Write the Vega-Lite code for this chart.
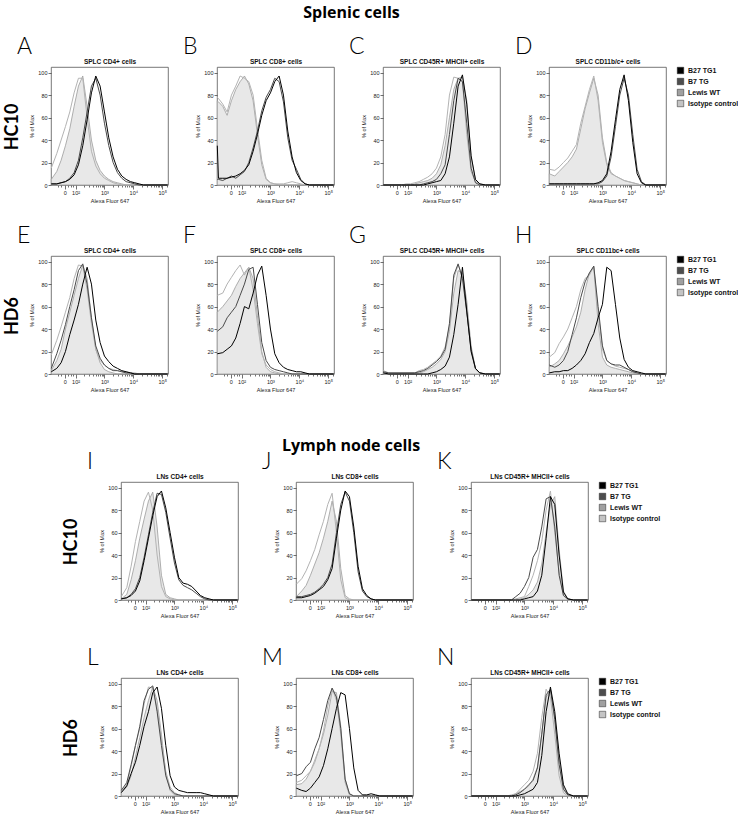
{
"$schema":"https://vega.github.io/schema/vega-lite/v6.json",
"padding":{"left":3,"top":4,"right":2,"bottom":2},
"config":{
"view":{"stroke":"#555","strokeWidth":0.8},
"font":"Liberation Sans",
"title":{"font":"Lato","fontSize":23,"fontWeight":300,"anchor":"start","frame":"group","dx":-34,"offset":-1,"color":"#000"},
"axis":{"labelFont":"Liberation Sans","labelFontSize":5.5,"titleFont":"Liberation Sans","titleFontSize":5.5,"titleFontWeight":"normal","tickSize":3,"tickColor":"#333","tickWidth":0.7,"domain":false,"grid":false,"labelColor":"#222","titleColor":"#222","labelPadding":1,"titlePadding":3,"labelOverlap":false,"labelFlush":false},
"axisTop":{"labels":false,"ticks":false,"domain":false,"titleFontWeight":"bold","titleFontSize":6.5,"titlePadding":3,"titleColor":"#111"},
"line":{"strokeWidth":1},
"legend":{"title":null,"orient":"right","offset":11,"symbolType":"square","symbolSize":42,"labelFont":"Liberation Sans","labelFontSize":7,"labelFontWeight":"bold","labelColor":"#111","rowPadding":2,"symbolStrokeColor":"#222","symbolStrokeWidth":0.5,"labelOffset":4}
},
"data":{"values":[
{"p":"A","x":1.16,"a":1,"b":1,"c":15,"d":5},{"p":"A","x":1.35,"a":1,"b":1,"c":28,"d":12},{"p":"A","x":1.5,"a":2,"b":2,"c":40,"d":22},{"p":"A","x":1.65,"a":3,"b":3,"c":52,"d":35},{"p":"A","x":1.8,"a":5,"b":6,"c":65,"d":50},{"p":"A","x":1.95,"a":9,"b":11,"c":82,"d":70},{"p":"A","x":2.1,"a":18,"b":22,"c":95,"d":88},{"p":"A","x":2.25,"a":35,"b":42,"c":95,"d":97},{"p":"A","x":2.4,"a":58,"b":65,"c":60,"d":70},{"p":"A","x":2.55,"a":82,"b":88,"c":30,"d":40},{"p":"A","x":2.7,"a":97,"b":95,"c":17,"d":22},{"p":"A","x":2.85,"a":88,"b":80,"c":10,"d":13},{"p":"A","x":3.0,"a":65,"b":55,"c":6,"d":8},{"p":"A","x":3.15,"a":42,"b":35,"c":4,"d":5},{"p":"A","x":3.3,"a":25,"b":20,"c":2,"d":3},{"p":"A","x":3.45,"a":14,"b":11,"c":1,"d":2},{"p":"A","x":3.6,"a":8,"b":6,"c":0,"d":1},{"p":"A","x":3.75,"a":5,"b":3,"c":0,"d":0},{"p":"A","x":3.9,"a":3,"b":2,"c":0,"d":0},{"p":"A","x":4.05,"a":2,"b":1,"c":0,"d":0},{"p":"A","x":4.2,"a":1,"b":0,"c":0,"d":0},{"p":"A","x":4.35,"a":0,"b":0,"c":0,"d":0},{"p":"A","x":5.19,"a":0,"b":0,"c":0,"d":0},
{"p":"B","x":1.16,"a":35,"b":5,"c":78,"d":75},{"p":"B","x":1.2,"a":6,"b":5,"c":77,"d":74},{"p":"B","x":1.35,"a":6,"b":4,"c":72,"d":70},{"p":"B","x":1.5,"a":6,"b":6,"c":65,"d":62},{"p":"B","x":1.65,"a":7,"b":8,"c":80,"d":75},{"p":"B","x":1.8,"a":8,"b":6,"c":88,"d":85},{"p":"B","x":1.95,"a":10,"b":9,"c":97,"d":92},{"p":"B","x":2.1,"a":13,"b":12,"c":95,"d":97},{"p":"B","x":2.25,"a":18,"b":20,"c":92,"d":90},{"p":"B","x":2.4,"a":30,"b":33,"c":80,"d":75},{"p":"B","x":2.55,"a":45,"b":48,"c":50,"d":45},{"p":"B","x":2.7,"a":62,"b":66,"c":22,"d":18},{"p":"B","x":2.85,"a":75,"b":78,"c":6,"d":5},{"p":"B","x":3.0,"a":82,"b":85,"c":2,"d":2},{"p":"B","x":3.15,"a":92,"b":95,"c":1,"d":1},{"p":"B","x":3.3,"a":97,"b":92,"c":1,"d":0},{"p":"B","x":3.45,"a":80,"b":74,"c":1,"d":0},{"p":"B","x":3.6,"a":48,"b":42,"c":2,"d":0},{"p":"B","x":3.75,"a":25,"b":22,"c":3,"d":0},{"p":"B","x":3.9,"a":11,"b":14,"c":2,"d":0},{"p":"B","x":4.05,"a":4,"b":5,"c":1,"d":0},{"p":"B","x":4.2,"a":1,"b":1,"c":0,"d":0},{"p":"B","x":4.35,"a":0,"b":0,"c":0,"d":0},{"p":"B","x":5.19,"a":0,"b":0,"c":0,"d":0},
{"p":"C","x":1.16,"a":0,"b":0,"c":0,"d":0},{"p":"C","x":1.8,"a":0,"b":0,"c":0,"d":0},{"p":"C","x":1.95,"a":0,"b":0,"c":1,"d":0},{"p":"C","x":2.1,"a":0,"b":0,"c":1,"d":0},{"p":"C","x":2.25,"a":0,"b":0,"c":2,"d":1},{"p":"C","x":2.4,"a":0,"b":0,"c":3,"d":2},{"p":"C","x":2.55,"a":0,"b":1,"c":5,"d":3},{"p":"C","x":2.7,"a":1,"b":2,"c":7,"d":4},{"p":"C","x":2.85,"a":2,"b":3,"c":10,"d":6},{"p":"C","x":3.0,"a":3,"b":5,"c":15,"d":10},{"p":"C","x":3.15,"a":4,"b":10,"c":25,"d":18},{"p":"C","x":3.3,"a":10,"b":18,"c":45,"d":35},{"p":"C","x":3.45,"a":25,"b":45,"c":80,"d":60},{"p":"C","x":3.6,"a":55,"b":75,"c":96,"d":85},{"p":"C","x":3.75,"a":88,"b":95,"c":95,"d":95},{"p":"C","x":3.9,"a":98,"b":92,"c":92,"d":96},{"p":"C","x":4.05,"a":72,"b":55,"c":45,"d":75},{"p":"C","x":4.2,"a":26,"b":15,"c":12,"d":25},{"p":"C","x":4.35,"a":5,"b":2,"c":3,"d":5},{"p":"C","x":4.5,"a":1,"b":0,"c":1,"d":1},{"p":"C","x":4.7,"a":0,"b":0,"c":0,"d":0},{"p":"C","x":5.19,"a":0,"b":0,"c":0,"d":0},
{"p":"D","x":1.16,"a":1,"b":1,"c":14,"d":10},{"p":"D","x":1.35,"a":1,"b":1,"c":13,"d":8},{"p":"D","x":1.5,"a":1,"b":1,"c":16,"d":12},{"p":"D","x":1.65,"a":1,"b":1,"c":20,"d":16},{"p":"D","x":1.8,"a":1,"b":1,"c":24,"d":20},{"p":"D","x":1.95,"a":1,"b":1,"c":30,"d":25},{"p":"D","x":2.1,"a":1,"b":1,"c":36,"d":32},{"p":"D","x":2.25,"a":1,"b":1,"c":55,"d":50},{"p":"D","x":2.4,"a":1,"b":1,"c":70,"d":68},{"p":"D","x":2.55,"a":1,"b":1,"c":85,"d":82},{"p":"D","x":2.7,"a":1,"b":1,"c":97,"d":95},{"p":"D","x":2.85,"a":2,"b":1,"c":75,"d":80},{"p":"D","x":3.0,"a":4,"b":3,"c":38,"d":42},{"p":"D","x":3.15,"a":10,"b":8,"c":18,"d":20},{"p":"D","x":3.3,"a":30,"b":25,"c":10,"d":11},{"p":"D","x":3.45,"a":58,"b":52,"c":8,"d":8},{"p":"D","x":3.6,"a":85,"b":80,"c":6,"d":6},{"p":"D","x":3.75,"a":98,"b":95,"c":4,"d":4},{"p":"D","x":3.9,"a":75,"b":80,"c":3,"d":3},{"p":"D","x":4.05,"a":38,"b":45,"c":2,"d":2},{"p":"D","x":4.2,"a":10,"b":14,"c":1,"d":1},{"p":"D","x":4.35,"a":2,"b":3,"c":0,"d":0},{"p":"D","x":4.5,"a":0,"b":0,"c":0,"d":0},{"p":"D","x":5.19,"a":0,"b":0,"c":0,"d":0},
{"p":"E","x":1.16,"a":2,"b":5,"c":17,"d":3},{"p":"E","x":1.35,"a":5,"b":18,"c":30,"d":12},{"p":"E","x":1.5,"a":10,"b":30,"c":42,"d":22},{"p":"E","x":1.65,"a":20,"b":44,"c":55,"d":40},{"p":"E","x":1.8,"a":35,"b":60,"c":68,"d":55},{"p":"E","x":1.95,"a":48,"b":75,"c":85,"d":70},{"p":"E","x":2.1,"a":62,"b":92,"c":97,"d":85},{"p":"E","x":2.25,"a":80,"b":98,"c":96,"d":97},{"p":"E","x":2.4,"a":95,"b":80,"c":75,"d":85},{"p":"E","x":2.55,"a":80,"b":50,"c":45,"d":50},{"p":"E","x":2.7,"a":48,"b":25,"c":22,"d":22},{"p":"E","x":2.85,"a":28,"b":14,"c":12,"d":10},{"p":"E","x":3.0,"a":16,"b":8,"c":8,"d":4},{"p":"E","x":3.15,"a":11,"b":5,"c":5,"d":2},{"p":"E","x":3.3,"a":7,"b":3,"c":4,"d":1},{"p":"E","x":3.45,"a":5,"b":3,"c":3,"d":0},{"p":"E","x":3.6,"a":3,"b":2,"c":2,"d":0},{"p":"E","x":3.75,"a":2,"b":1,"c":2,"d":0},{"p":"E","x":3.9,"a":1,"b":1,"c":1,"d":0},{"p":"E","x":4.05,"a":0,"b":0,"c":1,"d":0},{"p":"E","x":4.2,"a":0,"b":0,"c":0,"d":0},{"p":"E","x":5.19,"a":0,"b":0,"c":0,"d":0},
{"p":"F","x":1.16,"a":18,"b":38,"c":70,"d":55},{"p":"F","x":1.35,"a":19,"b":42,"c":72,"d":60},{"p":"F","x":1.5,"a":22,"b":50,"c":80,"d":65},{"p":"F","x":1.65,"a":25,"b":55,"c":86,"d":70},{"p":"F","x":1.8,"a":32,"b":60,"c":92,"d":78},{"p":"F","x":1.95,"a":45,"b":70,"c":97,"d":85},{"p":"F","x":2.1,"a":60,"b":80,"c":88,"d":90},{"p":"F","x":2.25,"a":58,"b":93,"c":95,"d":95},{"p":"F","x":2.4,"a":72,"b":95,"c":75,"d":85},{"p":"F","x":2.55,"a":88,"b":62,"c":45,"d":52},{"p":"F","x":2.7,"a":96,"b":28,"c":18,"d":20},{"p":"F","x":2.85,"a":70,"b":12,"c":8,"d":6},{"p":"F","x":3.0,"a":40,"b":6,"c":4,"d":2},{"p":"F","x":3.15,"a":18,"b":4,"c":2,"d":1},{"p":"F","x":3.3,"a":10,"b":3,"c":1,"d":0},{"p":"F","x":3.45,"a":6,"b":2,"c":0,"d":0},{"p":"F","x":3.6,"a":4,"b":1,"c":0,"d":0},{"p":"F","x":3.75,"a":3,"b":0,"c":0,"d":0},{"p":"F","x":3.9,"a":2,"b":0,"c":0,"d":0},{"p":"F","x":4.05,"a":2,"b":0,"c":0,"d":0},{"p":"F","x":4.2,"a":1,"b":0,"c":0,"d":0},{"p":"F","x":4.35,"a":0,"b":0,"c":0,"d":0},{"p":"F","x":5.19,"a":0,"b":0,"c":0,"d":0},
{"p":"G","x":1.16,"a":1,"b":2,"c":3,"d":1},{"p":"G","x":1.35,"a":0,"b":1,"c":1,"d":0},{"p":"G","x":2.25,"a":0,"b":1,"c":1,"d":1},{"p":"G","x":2.4,"a":0,"b":2,"c":3,"d":1},{"p":"G","x":2.55,"a":0,"b":3,"c":4,"d":2},{"p":"G","x":2.7,"a":0,"b":5,"c":6,"d":4},{"p":"G","x":2.85,"a":1,"b":8,"c":9,"d":6},{"p":"G","x":3.0,"a":2,"b":11,"c":12,"d":9},{"p":"G","x":3.15,"a":4,"b":15,"c":16,"d":13},{"p":"G","x":3.3,"a":7,"b":22,"c":24,"d":20},{"p":"G","x":3.45,"a":15,"b":45,"c":42,"d":38},{"p":"G","x":3.6,"a":35,"b":88,"c":85,"d":72},{"p":"G","x":3.75,"a":62,"b":98,"c":97,"d":92},{"p":"G","x":3.9,"a":95,"b":85,"c":88,"d":90},{"p":"G","x":4.05,"a":56,"b":55,"c":56,"d":65},{"p":"G","x":4.2,"a":20,"b":22,"c":20,"d":25},{"p":"G","x":4.35,"a":5,"b":5,"c":4,"d":5},{"p":"G","x":4.5,"a":1,"b":1,"c":1,"d":1},{"p":"G","x":4.7,"a":0,"b":0,"c":0,"d":0},{"p":"G","x":5.19,"a":0,"b":0,"c":0,"d":0},
{"p":"H","x":1.16,"a":1,"b":8,"c":15,"d":6},{"p":"H","x":1.35,"a":2,"b":6,"c":19,"d":9},{"p":"H","x":1.5,"a":2,"b":8,"c":27,"d":12},{"p":"H","x":1.65,"a":3,"b":12,"c":33,"d":18},{"p":"H","x":1.8,"a":3,"b":20,"c":40,"d":25},{"p":"H","x":1.95,"a":5,"b":35,"c":50,"d":33},{"p":"H","x":2.1,"a":8,"b":50,"c":60,"d":42},{"p":"H","x":2.25,"a":12,"b":68,"c":75,"d":55},{"p":"H","x":2.4,"a":18,"b":82,"c":85,"d":75},{"p":"H","x":2.55,"a":28,"b":90,"c":88,"d":90},{"p":"H","x":2.7,"a":36,"b":96,"c":96,"d":95},{"p":"H","x":2.85,"a":50,"b":60,"c":55,"d":45},{"p":"H","x":3.0,"a":62,"b":25,"c":22,"d":15},{"p":"H","x":3.15,"a":95,"b":12,"c":12,"d":8},{"p":"H","x":3.3,"a":92,"b":9,"c":9,"d":6},{"p":"H","x":3.45,"a":62,"b":8,"c":7,"d":5},{"p":"H","x":3.6,"a":32,"b":8,"c":6,"d":4},{"p":"H","x":3.75,"a":13,"b":6,"c":5,"d":3},{"p":"H","x":3.9,"a":6,"b":4,"c":4,"d":2},{"p":"H","x":4.05,"a":3,"b":2,"c":2,"d":1},{"p":"H","x":4.2,"a":2,"b":1,"c":1,"d":0},{"p":"H","x":4.35,"a":1,"b":0,"c":0,"d":0},{"p":"H","x":4.5,"a":0,"b":0,"c":0,"d":0},{"p":"H","x":5.19,"a":0,"b":0,"c":0,"d":0},
{"p":"I","x":1.16,"a":1,"b":1,"c":3,"d":1},{"p":"I","x":1.35,"a":2,"b":2,"c":11,"d":5},{"p":"I","x":1.5,"a":4,"b":5,"c":30,"d":18},{"p":"I","x":1.65,"a":8,"b":10,"c":52,"d":35},{"p":"I","x":1.8,"a":17,"b":20,"c":70,"d":55},{"p":"I","x":1.95,"a":35,"b":38,"c":88,"d":72},{"p":"I","x":2.1,"a":55,"b":58,"c":96,"d":88},{"p":"I","x":2.25,"a":75,"b":78,"c":80,"d":96},{"p":"I","x":2.4,"a":92,"b":95,"c":40,"d":65},{"p":"I","x":2.55,"a":97,"b":94,"c":12,"d":22},{"p":"I","x":2.7,"a":82,"b":78,"c":3,"d":5},{"p":"I","x":2.85,"a":60,"b":55,"c":1,"d":2},{"p":"I","x":3.0,"a":38,"b":33,"c":0,"d":1},{"p":"I","x":3.15,"a":20,"b":18,"c":0,"d":0},{"p":"I","x":3.3,"a":15,"b":13,"c":0,"d":0},{"p":"I","x":3.45,"a":14,"b":11,"c":0,"d":0},{"p":"I","x":3.6,"a":12,"b":9,"c":0,"d":0},{"p":"I","x":3.75,"a":8,"b":6,"c":0,"d":0},{"p":"I","x":3.9,"a":4,"b":3,"c":0,"d":0},{"p":"I","x":4.05,"a":2,"b":1,"c":0,"d":0},{"p":"I","x":4.2,"a":1,"b":0,"c":0,"d":0},{"p":"I","x":4.35,"a":0,"b":0,"c":0,"d":0},{"p":"I","x":5.19,"a":0,"b":0,"c":0,"d":0},
{"p":"J","x":1.16,"a":2,"b":3,"c":14,"d":3},{"p":"J","x":1.35,"a":2,"b":3,"c":19,"d":8},{"p":"J","x":1.5,"a":3,"b":4,"c":26,"d":13},{"p":"J","x":1.65,"a":4,"b":5,"c":35,"d":22},{"p":"J","x":1.8,"a":6,"b":7,"c":45,"d":32},{"p":"J","x":1.95,"a":9,"b":10,"c":58,"d":42},{"p":"J","x":2.1,"a":12,"b":14,"c":70,"d":55},{"p":"J","x":2.25,"a":18,"b":20,"c":85,"d":70},{"p":"J","x":2.4,"a":28,"b":32,"c":95,"d":88},{"p":"J","x":2.55,"a":55,"b":60,"c":60,"d":70},{"p":"J","x":2.7,"a":80,"b":85,"c":18,"d":28},{"p":"J","x":2.85,"a":97,"b":96,"c":2,"d":4},{"p":"J","x":3.0,"a":92,"b":88,"c":0,"d":1},{"p":"J","x":3.15,"a":65,"b":60,"c":0,"d":0},{"p":"J","x":3.3,"a":30,"b":25,"c":0,"d":0},{"p":"J","x":3.45,"a":10,"b":8,"c":0,"d":0},{"p":"J","x":3.6,"a":4,"b":3,"c":0,"d":0},{"p":"J","x":3.75,"a":1,"b":1,"c":0,"d":0},{"p":"J","x":3.9,"a":0,"b":0,"c":0,"d":0},{"p":"J","x":5.19,"a":0,"b":0,"c":0,"d":0},
{"p":"K","x":1.16,"a":0,"b":0,"c":0,"d":0},{"p":"K","x":2.55,"a":0,"b":0,"c":0,"d":0},{"p":"K","x":2.7,"a":0,"b":3,"c":1,"d":0},{"p":"K","x":2.85,"a":0,"b":6,"c":2,"d":1},{"p":"K","x":3.0,"a":1,"b":12,"c":3,"d":2},{"p":"K","x":3.15,"a":2,"b":20,"c":12,"d":5},{"p":"K","x":3.3,"a":3,"b":38,"c":22,"d":9},{"p":"K","x":3.45,"a":8,"b":45,"c":35,"d":16},{"p":"K","x":3.6,"a":22,"b":65,"c":52,"d":32},{"p":"K","x":3.75,"a":55,"b":90,"c":80,"d":60},{"p":"K","x":3.9,"a":92,"b":92,"c":97,"d":85},{"p":"K","x":4.05,"a":85,"b":65,"c":60,"d":92},{"p":"K","x":4.2,"a":40,"b":22,"c":25,"d":45},{"p":"K","x":4.35,"a":7,"b":4,"c":4,"d":8},{"p":"K","x":4.5,"a":1,"b":1,"c":0,"d":1},{"p":"K","x":4.7,"a":0,"b":0,"c":0,"d":0},{"p":"K","x":5.19,"a":0,"b":0,"c":0,"d":0},
{"p":"L","x":1.16,"a":3,"b":5,"c":4,"d":3},{"p":"L","x":1.35,"a":9,"b":12,"c":10,"d":8},{"p":"L","x":1.5,"a":20,"b":28,"c":26,"d":18},{"p":"L","x":1.65,"a":30,"b":45,"c":45,"d":35},{"p":"L","x":1.8,"a":45,"b":62,"c":60,"d":52},{"p":"L","x":1.95,"a":62,"b":85,"c":82,"d":70},{"p":"L","x":2.1,"a":75,"b":95,"c":97,"d":85},{"p":"L","x":2.25,"a":92,"b":98,"c":96,"d":97},{"p":"L","x":2.4,"a":97,"b":75,"c":78,"d":85},{"p":"L","x":2.55,"a":78,"b":45,"c":50,"d":55},{"p":"L","x":2.7,"a":45,"b":18,"c":22,"d":20},{"p":"L","x":2.85,"a":18,"b":6,"c":8,"d":5},{"p":"L","x":3.0,"a":8,"b":2,"c":3,"d":1},{"p":"L","x":3.15,"a":5,"b":1,"c":1,"d":0},{"p":"L","x":3.3,"a":4,"b":0,"c":0,"d":0},{"p":"L","x":3.45,"a":3,"b":0,"c":0,"d":0},{"p":"L","x":3.75,"a":3,"b":0,"c":0,"d":0},{"p":"L","x":3.9,"a":3,"b":0,"c":0,"d":0},{"p":"L","x":4.05,"a":2,"b":0,"c":0,"d":0},{"p":"L","x":4.2,"a":1,"b":0,"c":0,"d":0},{"p":"L","x":4.35,"a":0,"b":0,"c":0,"d":0},{"p":"L","x":5.19,"a":0,"b":0,"c":0,"d":0},
{"p":"M","x":1.16,"a":7,"b":18,"c":12,"d":10},{"p":"M","x":1.35,"a":5,"b":20,"c":14,"d":11},{"p":"M","x":1.5,"a":4,"b":26,"c":18,"d":15},{"p":"M","x":1.65,"a":7,"b":30,"c":22,"d":22},{"p":"M","x":1.8,"a":12,"b":42,"c":32,"d":30},{"p":"M","x":1.95,"a":17,"b":52,"c":42,"d":42},{"p":"M","x":2.1,"a":27,"b":68,"c":58,"d":55},{"p":"M","x":2.25,"a":42,"b":85,"c":80,"d":72},{"p":"M","x":2.4,"a":60,"b":96,"c":96,"d":93},{"p":"M","x":2.55,"a":78,"b":88,"c":85,"d":92},{"p":"M","x":2.7,"a":92,"b":60,"c":55,"d":62},{"p":"M","x":2.85,"a":90,"b":15,"c":12,"d":15},{"p":"M","x":3.0,"a":60,"b":2,"c":1,"d":2},{"p":"M","x":3.15,"a":25,"b":0,"c":0,"d":0},{"p":"M","x":3.3,"a":5,"b":0,"c":0,"d":0},{"p":"M","x":3.45,"a":1,"b":0,"c":0,"d":0},{"p":"M","x":3.6,"a":1,"b":0,"c":0,"d":0},{"p":"M","x":3.75,"a":2,"b":0,"c":0,"d":0},{"p":"M","x":3.9,"a":1,"b":0,"c":0,"d":0},{"p":"M","x":4.05,"a":0,"b":0,"c":0,"d":0},{"p":"M","x":5.19,"a":0,"b":0,"c":0,"d":0},
{"p":"N","x":1.16,"a":0,"b":0,"c":0,"d":0},{"p":"N","x":2.4,"a":0,"b":0,"c":0,"d":0},{"p":"N","x":2.55,"a":0,"b":0,"c":1,"d":0},{"p":"N","x":2.7,"a":0,"b":1,"c":2,"d":2},{"p":"N","x":2.85,"a":1,"b":3,"c":6,"d":4},{"p":"N","x":3.0,"a":2,"b":6,"c":10,"d":6},{"p":"N","x":3.15,"a":4,"b":10,"c":14,"d":9},{"p":"N","x":3.3,"a":6,"b":14,"c":22,"d":15},{"p":"N","x":3.45,"a":12,"b":25,"c":38,"d":26},{"p":"N","x":3.6,"a":36,"b":55,"c":70,"d":56},{"p":"N","x":3.75,"a":75,"b":90,"c":95,"d":88},{"p":"N","x":3.9,"a":97,"b":95,"c":88,"d":94},{"p":"N","x":4.05,"a":75,"b":68,"c":55,"d":70},{"p":"N","x":4.2,"a":38,"b":28,"c":18,"d":33},{"p":"N","x":4.35,"a":10,"b":6,"c":3,"d":8},{"p":"N","x":4.5,"a":2,"b":1,"c":0,"d":1},{"p":"N","x":4.7,"a":0,"b":0,"c":0,"d":0},{"p":"N","x":5.19,"a":0,"b":0,"c":0,"d":0}
]},
"resolve":{"scale":{"fill":"independent"}},
"spacing":43,
"vconcat":[
{"title":{"text":"Splenic cells","font":"Open Sans","fontSize":16,"fontWeight":"bold","anchor":"middle","frame":"bounds","dx":-20,"offset":15},
"resolve":{"scale":{"fill":"independent"}},
"spacing":19,
"vconcat":[
{"title":{"text":"HC10","orient":"left","font":"Lato","fontSize":18,"fontWeight":"bold","anchor":"middle","frame":"bounds","dx":-7,"offset":-5},
"resolve":{"scale":{"fill":"independent"}},"spacing":11,
"hconcat":[
{"width":117,"height":118,"title":{"text":"A"},"transform":[{"filter":"datum.p=='A'"},{"fold":["a","b","c","d"],"as":["s","y"]}],"encoding":{"x":{"field":"x","type":"quantitative","scale":{"domain":[1.15,5.2],"nice":false,"zero":false},"axis":null},"y":{"field":"y","type":"quantitative","scale":{"domain":[0,105],"nice":false},"axis":{"values":[0,20,40,60,80,100],"title":"% of Max"}}},"layer":[
{"transform":[{"filter":"datum.s=='d'"}],"mark":{"type":"area","fill":"#e8e8e8","stroke":"#9c9c9c","strokeWidth":0.8},"encoding":{"x":{"field":"x","type":"quantitative","scale":{"domain":[1.15,5.2],"nice":false,"zero":false},"axis":{"values":[1.4,1.5,1.63,1.75,1.85,1.92,2,2.301,2.477,2.602,2.699,2.778,2.845,2.903,2.954,3,3.301,3.477,3.602,3.699,3.778,3.845,3.903,3.954,4,4.301,4.477,4.602,4.699,4.778,4.845,4.903,4.954,5,5.18],"labelExpr":"datum.value==1.63?'0':datum.value==2?'10²':datum.value==3?'10³':datum.value==4?'10⁴':datum.value==5?'10⁵':''","tickSize":{"condition":{"test":"datum.value==1.63||datum.value==2||datum.value==3||datum.value==4||datum.value==5","value":4},"value":2},"title":"Alexa Fluor 647"}}}},
{"transform":[{"filter":"datum.s=='c'"}],"mark":{"type":"line","stroke":"#b3b3b3"}},
{"transform":[{"filter":"datum.s=='b'"}],"mark":{"type":"line","stroke":"#4a4a4a"}},
{"transform":[{"filter":"datum.s=='a'"}],"mark":{"type":"line","stroke":"#000"},"encoding":{"x":{"field":"x","type":"quantitative","scale":{"domain":[1.15,5.2],"nice":false,"zero":false},"axis":{"orient":"top","title":"SPLC CD4+ cells"}}}}
],"resolve":{"axis":{"x":"independent"}}},
{"width":117,"height":118,"title":{"text":"B"},"transform":[{"filter":"datum.p=='B'"},{"fold":["a","b","c","d"],"as":["s","y"]}],"encoding":{"x":{"field":"x","type":"quantitative","scale":{"domain":[1.15,5.2],"nice":false,"zero":false},"axis":null},"y":{"field":"y","type":"quantitative","scale":{"domain":[0,105],"nice":false},"axis":{"values":[0,20,40,60,80,100],"title":"% of Max"}}},"layer":[
{"transform":[{"filter":"datum.s=='d'"}],"mark":{"type":"area","fill":"#e8e8e8","stroke":"#9c9c9c","strokeWidth":0.8},"encoding":{"x":{"field":"x","type":"quantitative","scale":{"domain":[1.15,5.2],"nice":false,"zero":false},"axis":{"values":[1.4,1.5,1.63,1.75,1.85,1.92,2,2.301,2.477,2.602,2.699,2.778,2.845,2.903,2.954,3,3.301,3.477,3.602,3.699,3.778,3.845,3.903,3.954,4,4.301,4.477,4.602,4.699,4.778,4.845,4.903,4.954,5,5.18],"labelExpr":"datum.value==1.63?'0':datum.value==2?'10²':datum.value==3?'10³':datum.value==4?'10⁴':datum.value==5?'10⁵':''","tickSize":{"condition":{"test":"datum.value==1.63||datum.value==2||datum.value==3||datum.value==4||datum.value==5","value":4},"value":2},"title":"Alexa Fluor 647"}}}},
{"transform":[{"filter":"datum.s=='c'"}],"mark":{"type":"line","stroke":"#b3b3b3"}},
{"transform":[{"filter":"datum.s=='b'"}],"mark":{"type":"line","stroke":"#4a4a4a"}},
{"transform":[{"filter":"datum.s=='a'"}],"mark":{"type":"line","stroke":"#000"},"encoding":{"x":{"field":"x","type":"quantitative","scale":{"domain":[1.15,5.2],"nice":false,"zero":false},"axis":{"orient":"top","title":"SPLC CD8+ cells"}}}}
],"resolve":{"axis":{"x":"independent"}}},
{"width":117,"height":118,"title":{"text":"C"},"transform":[{"filter":"datum.p=='C'"},{"fold":["a","b","c","d"],"as":["s","y"]}],"encoding":{"x":{"field":"x","type":"quantitative","scale":{"domain":[1.15,5.2],"nice":false,"zero":false},"axis":null},"y":{"field":"y","type":"quantitative","scale":{"domain":[0,105],"nice":false},"axis":{"values":[0,20,40,60,80,100],"title":"% of Max"}}},"layer":[
{"transform":[{"filter":"datum.s=='d'"}],"mark":{"type":"area","fill":"#e8e8e8","stroke":"#9c9c9c","strokeWidth":0.8},"encoding":{"x":{"field":"x","type":"quantitative","scale":{"domain":[1.15,5.2],"nice":false,"zero":false},"axis":{"values":[1.4,1.5,1.63,1.75,1.85,1.92,2,2.301,2.477,2.602,2.699,2.778,2.845,2.903,2.954,3,3.301,3.477,3.602,3.699,3.778,3.845,3.903,3.954,4,4.301,4.477,4.602,4.699,4.778,4.845,4.903,4.954,5,5.18],"labelExpr":"datum.value==1.63?'0':datum.value==2?'10²':datum.value==3?'10³':datum.value==4?'10⁴':datum.value==5?'10⁵':''","tickSize":{"condition":{"test":"datum.value==1.63||datum.value==2||datum.value==3||datum.value==4||datum.value==5","value":4},"value":2},"title":"Alexa Fluor 647"}}}},
{"transform":[{"filter":"datum.s=='c'"}],"mark":{"type":"line","stroke":"#b3b3b3"}},
{"transform":[{"filter":"datum.s=='b'"}],"mark":{"type":"line","stroke":"#4a4a4a"}},
{"transform":[{"filter":"datum.s=='a'"}],"mark":{"type":"line","stroke":"#000"},"encoding":{"x":{"field":"x","type":"quantitative","scale":{"domain":[1.15,5.2],"nice":false,"zero":false},"axis":{"orient":"top","title":"SPLC CD45R+ MHCII+ cells"}}}}
],"resolve":{"axis":{"x":"independent"}}},
{"width":117,"height":118,"title":{"text":"D"},"transform":[{"filter":"datum.p=='D'"},{"fold":["a","b","c","d"],"as":["s","y"]}],"encoding":{"x":{"field":"x","type":"quantitative","scale":{"domain":[1.15,5.2],"nice":false,"zero":false},"axis":null},"y":{"field":"y","type":"quantitative","scale":{"domain":[0,105],"nice":false},"axis":{"values":[0,20,40,60,80,100],"title":"% of Max"}}},"layer":[
{"transform":[{"filter":"datum.s=='d'"}],"mark":{"type":"area","fill":"#e8e8e8","stroke":"#9c9c9c","strokeWidth":0.8},"encoding":{"x":{"field":"x","type":"quantitative","scale":{"domain":[1.15,5.2],"nice":false,"zero":false},"axis":{"values":[1.4,1.5,1.63,1.75,1.85,1.92,2,2.301,2.477,2.602,2.699,2.778,2.845,2.903,2.954,3,3.301,3.477,3.602,3.699,3.778,3.845,3.903,3.954,4,4.301,4.477,4.602,4.699,4.778,4.845,4.903,4.954,5,5.18],"labelExpr":"datum.value==1.63?'0':datum.value==2?'10²':datum.value==3?'10³':datum.value==4?'10⁴':datum.value==5?'10⁵':''","tickSize":{"condition":{"test":"datum.value==1.63||datum.value==2||datum.value==3||datum.value==4||datum.value==5","value":4},"value":2},"title":"Alexa Fluor 647"}}}},
{"transform":[{"filter":"datum.s=='c'"}],"mark":{"type":"line","stroke":"#b3b3b3"}},
{"transform":[{"filter":"datum.s=='b'"}],"mark":{"type":"line","stroke":"#4a4a4a"}},
{"transform":[{"filter":"datum.s=='a'"}],"mark":{"type":"line","stroke":"#000"},"encoding":{"x":{"field":"x","type":"quantitative","scale":{"domain":[1.15,5.2],"nice":false,"zero":false},"axis":{"orient":"top","title":"SPLC CD11b/c+ cells"}}}},
{"transform":[{"filter":"false"}],"mark":{"type":"square","opacity":1},"encoding":{"fill":{"field":"s","type":"nominal","scale":{"domain":["B27 TG1","B7 TG","Lewis WT","Isotype control"],"range":["#000000","#4d4d4d","#a0a0a0","#c4c4c4"]},"legend":{}}}}
],"resolve":{"axis":{"x":"independent"}}}
]},
{"title":{"text":"HD6","orient":"left","font":"Lato","fontSize":18,"fontWeight":"bold","anchor":"middle","frame":"bounds","dx":-7,"offset":-5},
"resolve":{"scale":{"fill":"independent"}},"spacing":11,
"hconcat":[
{"width":117,"height":118,"title":{"text":"E"},"transform":[{"filter":"datum.p=='E'"},{"fold":["a","b","c","d"],"as":["s","y"]}],"encoding":{"x":{"field":"x","type":"quantitative","scale":{"domain":[1.15,5.2],"nice":false,"zero":false},"axis":null},"y":{"field":"y","type":"quantitative","scale":{"domain":[0,105],"nice":false},"axis":{"values":[0,20,40,60,80,100],"title":"% of Max"}}},"layer":[
{"transform":[{"filter":"datum.s=='d'"}],"mark":{"type":"area","fill":"#e8e8e8","stroke":"#9c9c9c","strokeWidth":0.8},"encoding":{"x":{"field":"x","type":"quantitative","scale":{"domain":[1.15,5.2],"nice":false,"zero":false},"axis":{"values":[1.4,1.5,1.63,1.75,1.85,1.92,2,2.301,2.477,2.602,2.699,2.778,2.845,2.903,2.954,3,3.301,3.477,3.602,3.699,3.778,3.845,3.903,3.954,4,4.301,4.477,4.602,4.699,4.778,4.845,4.903,4.954,5,5.18],"labelExpr":"datum.value==1.63?'0':datum.value==2?'10²':datum.value==3?'10³':datum.value==4?'10⁴':datum.value==5?'10⁵':''","tickSize":{"condition":{"test":"datum.value==1.63||datum.value==2||datum.value==3||datum.value==4||datum.value==5","value":4},"value":2},"title":"Alexa Fluor 647"}}}},
{"transform":[{"filter":"datum.s=='c'"}],"mark":{"type":"line","stroke":"#b3b3b3"}},
{"transform":[{"filter":"datum.s=='b'"}],"mark":{"type":"line","stroke":"#4a4a4a"}},
{"transform":[{"filter":"datum.s=='a'"}],"mark":{"type":"line","stroke":"#000"},"encoding":{"x":{"field":"x","type":"quantitative","scale":{"domain":[1.15,5.2],"nice":false,"zero":false},"axis":{"orient":"top","title":"SPLC CD4+ cells"}}}}
],"resolve":{"axis":{"x":"independent"}}},
{"width":117,"height":118,"title":{"text":"F"},"transform":[{"filter":"datum.p=='F'"},{"fold":["a","b","c","d"],"as":["s","y"]}],"encoding":{"x":{"field":"x","type":"quantitative","scale":{"domain":[1.15,5.2],"nice":false,"zero":false},"axis":null},"y":{"field":"y","type":"quantitative","scale":{"domain":[0,105],"nice":false},"axis":{"values":[0,20,40,60,80,100],"title":"% of Max"}}},"layer":[
{"transform":[{"filter":"datum.s=='d'"}],"mark":{"type":"area","fill":"#e8e8e8","stroke":"#9c9c9c","strokeWidth":0.8},"encoding":{"x":{"field":"x","type":"quantitative","scale":{"domain":[1.15,5.2],"nice":false,"zero":false},"axis":{"values":[1.4,1.5,1.63,1.75,1.85,1.92,2,2.301,2.477,2.602,2.699,2.778,2.845,2.903,2.954,3,3.301,3.477,3.602,3.699,3.778,3.845,3.903,3.954,4,4.301,4.477,4.602,4.699,4.778,4.845,4.903,4.954,5,5.18],"labelExpr":"datum.value==1.63?'0':datum.value==2?'10²':datum.value==3?'10³':datum.value==4?'10⁴':datum.value==5?'10⁵':''","tickSize":{"condition":{"test":"datum.value==1.63||datum.value==2||datum.value==3||datum.value==4||datum.value==5","value":4},"value":2},"title":"Alexa Fluor 647"}}}},
{"transform":[{"filter":"datum.s=='c'"}],"mark":{"type":"line","stroke":"#b3b3b3"}},
{"transform":[{"filter":"datum.s=='b'"}],"mark":{"type":"line","stroke":"#4a4a4a"}},
{"transform":[{"filter":"datum.s=='a'"}],"mark":{"type":"line","stroke":"#000"},"encoding":{"x":{"field":"x","type":"quantitative","scale":{"domain":[1.15,5.2],"nice":false,"zero":false},"axis":{"orient":"top","title":"SPLC CD8+ cells"}}}}
],"resolve":{"axis":{"x":"independent"}}},
{"width":117,"height":118,"title":{"text":"G"},"transform":[{"filter":"datum.p=='G'"},{"fold":["a","b","c","d"],"as":["s","y"]}],"encoding":{"x":{"field":"x","type":"quantitative","scale":{"domain":[1.15,5.2],"nice":false,"zero":false},"axis":null},"y":{"field":"y","type":"quantitative","scale":{"domain":[0,105],"nice":false},"axis":{"values":[0,20,40,60,80,100],"title":"% of Max"}}},"layer":[
{"transform":[{"filter":"datum.s=='d'"}],"mark":{"type":"area","fill":"#e8e8e8","stroke":"#9c9c9c","strokeWidth":0.8},"encoding":{"x":{"field":"x","type":"quantitative","scale":{"domain":[1.15,5.2],"nice":false,"zero":false},"axis":{"values":[1.4,1.5,1.63,1.75,1.85,1.92,2,2.301,2.477,2.602,2.699,2.778,2.845,2.903,2.954,3,3.301,3.477,3.602,3.699,3.778,3.845,3.903,3.954,4,4.301,4.477,4.602,4.699,4.778,4.845,4.903,4.954,5,5.18],"labelExpr":"datum.value==1.63?'0':datum.value==2?'10²':datum.value==3?'10³':datum.value==4?'10⁴':datum.value==5?'10⁵':''","tickSize":{"condition":{"test":"datum.value==1.63||datum.value==2||datum.value==3||datum.value==4||datum.value==5","value":4},"value":2},"title":"Alexa Fluor 647"}}}},
{"transform":[{"filter":"datum.s=='c'"}],"mark":{"type":"line","stroke":"#b3b3b3"}},
{"transform":[{"filter":"datum.s=='b'"}],"mark":{"type":"line","stroke":"#4a4a4a"}},
{"transform":[{"filter":"datum.s=='a'"}],"mark":{"type":"line","stroke":"#000"},"encoding":{"x":{"field":"x","type":"quantitative","scale":{"domain":[1.15,5.2],"nice":false,"zero":false},"axis":{"orient":"top","title":"SPLC CD45R+ MHCII+ cells"}}}}
],"resolve":{"axis":{"x":"independent"}}},
{"width":117,"height":118,"title":{"text":"H"},"transform":[{"filter":"datum.p=='H'"},{"fold":["a","b","c","d"],"as":["s","y"]}],"encoding":{"x":{"field":"x","type":"quantitative","scale":{"domain":[1.15,5.2],"nice":false,"zero":false},"axis":null},"y":{"field":"y","type":"quantitative","scale":{"domain":[0,105],"nice":false},"axis":{"values":[0,20,40,60,80,100],"title":"% of Max"}}},"layer":[
{"transform":[{"filter":"datum.s=='d'"}],"mark":{"type":"area","fill":"#e8e8e8","stroke":"#9c9c9c","strokeWidth":0.8},"encoding":{"x":{"field":"x","type":"quantitative","scale":{"domain":[1.15,5.2],"nice":false,"zero":false},"axis":{"values":[1.4,1.5,1.63,1.75,1.85,1.92,2,2.301,2.477,2.602,2.699,2.778,2.845,2.903,2.954,3,3.301,3.477,3.602,3.699,3.778,3.845,3.903,3.954,4,4.301,4.477,4.602,4.699,4.778,4.845,4.903,4.954,5,5.18],"labelExpr":"datum.value==1.63?'0':datum.value==2?'10²':datum.value==3?'10³':datum.value==4?'10⁴':datum.value==5?'10⁵':''","tickSize":{"condition":{"test":"datum.value==1.63||datum.value==2||datum.value==3||datum.value==4||datum.value==5","value":4},"value":2},"title":"Alexa Fluor 647"}}}},
{"transform":[{"filter":"datum.s=='c'"}],"mark":{"type":"line","stroke":"#b3b3b3"}},
{"transform":[{"filter":"datum.s=='b'"}],"mark":{"type":"line","stroke":"#4a4a4a"}},
{"transform":[{"filter":"datum.s=='a'"}],"mark":{"type":"line","stroke":"#000"},"encoding":{"x":{"field":"x","type":"quantitative","scale":{"domain":[1.15,5.2],"nice":false,"zero":false},"axis":{"orient":"top","title":"SPLC CD11bc+ cells"}}}},
{"transform":[{"filter":"false"}],"mark":{"type":"square","opacity":1},"encoding":{"fill":{"field":"s","type":"nominal","scale":{"domain":["B27 TG1","B7 TG","Lewis WT","Isotype control"],"range":["#000000","#4d4d4d","#a0a0a0","#c4c4c4"]},"legend":{}}}}
],"resolve":{"axis":{"x":"independent"}}}
]}
]},
{"resolve":{"scale":{"fill":"independent"}},"spacing":0,
"hconcat":[
{"width":11,"height":5,"data":{"values":[]},"mark":{"type":"point","opacity":0},"encoding":{},"view":{"stroke":null}},
{"title":{"text":"Lymph node cells","font":"Open Sans","fontSize":16,"fontWeight":"bold","anchor":"middle","frame":"bounds","dx":-11,"offset":-3},
"resolve":{"scale":{"fill":"independent"}},"spacing":26,
"vconcat":[
{"title":{"text":"HC10","orient":"left","font":"Lato","fontSize":18,"fontWeight":"bold","anchor":"middle","frame":"bounds","dx":-7,"offset":6},
"resolve":{"scale":{"fill":"independent"}},"spacing":20,
"hconcat":[
{"width":117,"height":118,"title":{"text":"I"},"transform":[{"filter":"datum.p=='I'"},{"fold":["a","b","c","d"],"as":["s","y"]}],"encoding":{"x":{"field":"x","type":"quantitative","scale":{"domain":[1.15,5.2],"nice":false,"zero":false},"axis":null},"y":{"field":"y","type":"quantitative","scale":{"domain":[0,105],"nice":false},"axis":{"values":[0,20,40,60,80,100],"title":"% of Max"}}},"layer":[
{"transform":[{"filter":"datum.s=='d'"}],"mark":{"type":"area","fill":"#e8e8e8","stroke":"#9c9c9c","strokeWidth":0.8},"encoding":{"x":{"field":"x","type":"quantitative","scale":{"domain":[1.15,5.2],"nice":false,"zero":false},"axis":{"values":[1.4,1.5,1.63,1.75,1.85,1.92,2,2.301,2.477,2.602,2.699,2.778,2.845,2.903,2.954,3,3.301,3.477,3.602,3.699,3.778,3.845,3.903,3.954,4,4.301,4.477,4.602,4.699,4.778,4.845,4.903,4.954,5,5.18],"labelExpr":"datum.value==1.63?'0':datum.value==2?'10²':datum.value==3?'10³':datum.value==4?'10⁴':datum.value==5?'10⁵':''","tickSize":{"condition":{"test":"datum.value==1.63||datum.value==2||datum.value==3||datum.value==4||datum.value==5","value":4},"value":2},"title":"Alexa Fluor 647"}}}},
{"transform":[{"filter":"datum.s=='c'"}],"mark":{"type":"line","stroke":"#b3b3b3"}},
{"transform":[{"filter":"datum.s=='b'"}],"mark":{"type":"line","stroke":"#4a4a4a"}},
{"transform":[{"filter":"datum.s=='a'"}],"mark":{"type":"line","stroke":"#000"},"encoding":{"x":{"field":"x","type":"quantitative","scale":{"domain":[1.15,5.2],"nice":false,"zero":false},"axis":{"orient":"top","title":"LNs CD4+ cells"}}}}
],"resolve":{"axis":{"x":"independent"}}},
{"width":117,"height":118,"title":{"text":"J"},"transform":[{"filter":"datum.p=='J'"},{"fold":["a","b","c","d"],"as":["s","y"]}],"encoding":{"x":{"field":"x","type":"quantitative","scale":{"domain":[1.15,5.2],"nice":false,"zero":false},"axis":null},"y":{"field":"y","type":"quantitative","scale":{"domain":[0,105],"nice":false},"axis":{"values":[0,20,40,60,80,100],"title":"% of Max"}}},"layer":[
{"transform":[{"filter":"datum.s=='d'"}],"mark":{"type":"area","fill":"#e8e8e8","stroke":"#9c9c9c","strokeWidth":0.8},"encoding":{"x":{"field":"x","type":"quantitative","scale":{"domain":[1.15,5.2],"nice":false,"zero":false},"axis":{"values":[1.4,1.5,1.63,1.75,1.85,1.92,2,2.301,2.477,2.602,2.699,2.778,2.845,2.903,2.954,3,3.301,3.477,3.602,3.699,3.778,3.845,3.903,3.954,4,4.301,4.477,4.602,4.699,4.778,4.845,4.903,4.954,5,5.18],"labelExpr":"datum.value==1.63?'0':datum.value==2?'10²':datum.value==3?'10³':datum.value==4?'10⁴':datum.value==5?'10⁵':''","tickSize":{"condition":{"test":"datum.value==1.63||datum.value==2||datum.value==3||datum.value==4||datum.value==5","value":4},"value":2},"title":"Alexa Fluor 647"}}}},
{"transform":[{"filter":"datum.s=='c'"}],"mark":{"type":"line","stroke":"#b3b3b3"}},
{"transform":[{"filter":"datum.s=='b'"}],"mark":{"type":"line","stroke":"#4a4a4a"}},
{"transform":[{"filter":"datum.s=='a'"}],"mark":{"type":"line","stroke":"#000"},"encoding":{"x":{"field":"x","type":"quantitative","scale":{"domain":[1.15,5.2],"nice":false,"zero":false},"axis":{"orient":"top","title":"LNs CD8+ cells"}}}}
],"resolve":{"axis":{"x":"independent"}}},
{"width":117,"height":118,"title":{"text":"K"},"transform":[{"filter":"datum.p=='K'"},{"fold":["a","b","c","d"],"as":["s","y"]}],"encoding":{"x":{"field":"x","type":"quantitative","scale":{"domain":[1.15,5.2],"nice":false,"zero":false},"axis":null},"y":{"field":"y","type":"quantitative","scale":{"domain":[0,105],"nice":false},"axis":{"values":[0,20,40,60,80,100],"title":"% of Max"}}},"layer":[
{"transform":[{"filter":"datum.s=='d'"}],"mark":{"type":"area","fill":"#e8e8e8","stroke":"#9c9c9c","strokeWidth":0.8},"encoding":{"x":{"field":"x","type":"quantitative","scale":{"domain":[1.15,5.2],"nice":false,"zero":false},"axis":{"values":[1.4,1.5,1.63,1.75,1.85,1.92,2,2.301,2.477,2.602,2.699,2.778,2.845,2.903,2.954,3,3.301,3.477,3.602,3.699,3.778,3.845,3.903,3.954,4,4.301,4.477,4.602,4.699,4.778,4.845,4.903,4.954,5,5.18],"labelExpr":"datum.value==1.63?'0':datum.value==2?'10²':datum.value==3?'10³':datum.value==4?'10⁴':datum.value==5?'10⁵':''","tickSize":{"condition":{"test":"datum.value==1.63||datum.value==2||datum.value==3||datum.value==4||datum.value==5","value":4},"value":2},"title":"Alexa Fluor 647"}}}},
{"transform":[{"filter":"datum.s=='c'"}],"mark":{"type":"line","stroke":"#b3b3b3"}},
{"transform":[{"filter":"datum.s=='b'"}],"mark":{"type":"line","stroke":"#4a4a4a"}},
{"transform":[{"filter":"datum.s=='a'"}],"mark":{"type":"line","stroke":"#000"},"encoding":{"x":{"field":"x","type":"quantitative","scale":{"domain":[1.15,5.2],"nice":false,"zero":false},"axis":{"orient":"top","title":"LNs CD45R+ MHCII+ cells"}}}},
{"transform":[{"filter":"false"}],"mark":{"type":"square","opacity":1},"encoding":{"fill":{"field":"s","type":"nominal","scale":{"domain":["B27 TG1","B7 TG","Lewis WT","Isotype control"],"range":["#000000","#4d4d4d","#a0a0a0","#c4c4c4"]},"legend":{}}}}
],"resolve":{"axis":{"x":"independent"}}}
]},
{"title":{"text":"HD6","orient":"left","font":"Lato","fontSize":18,"fontWeight":"bold","anchor":"middle","frame":"bounds","dx":-7,"offset":6},
"resolve":{"scale":{"fill":"independent"}},"spacing":20,
"hconcat":[
{"width":117,"height":118,"title":{"text":"L"},"transform":[{"filter":"datum.p=='L'"},{"fold":["a","b","c","d"],"as":["s","y"]}],"encoding":{"x":{"field":"x","type":"quantitative","scale":{"domain":[1.15,5.2],"nice":false,"zero":false},"axis":null},"y":{"field":"y","type":"quantitative","scale":{"domain":[0,105],"nice":false},"axis":{"values":[0,20,40,60,80,100],"title":"% of Max"}}},"layer":[
{"transform":[{"filter":"datum.s=='d'"}],"mark":{"type":"area","fill":"#e8e8e8","stroke":"#9c9c9c","strokeWidth":0.8},"encoding":{"x":{"field":"x","type":"quantitative","scale":{"domain":[1.15,5.2],"nice":false,"zero":false},"axis":{"values":[1.4,1.5,1.63,1.75,1.85,1.92,2,2.301,2.477,2.602,2.699,2.778,2.845,2.903,2.954,3,3.301,3.477,3.602,3.699,3.778,3.845,3.903,3.954,4,4.301,4.477,4.602,4.699,4.778,4.845,4.903,4.954,5,5.18],"labelExpr":"datum.value==1.63?'0':datum.value==2?'10²':datum.value==3?'10³':datum.value==4?'10⁴':datum.value==5?'10⁵':''","tickSize":{"condition":{"test":"datum.value==1.63||datum.value==2||datum.value==3||datum.value==4||datum.value==5","value":4},"value":2},"title":"Alexa Fluor 647"}}}},
{"transform":[{"filter":"datum.s=='c'"}],"mark":{"type":"line","stroke":"#b3b3b3"}},
{"transform":[{"filter":"datum.s=='b'"}],"mark":{"type":"line","stroke":"#4a4a4a"}},
{"transform":[{"filter":"datum.s=='a'"}],"mark":{"type":"line","stroke":"#000"},"encoding":{"x":{"field":"x","type":"quantitative","scale":{"domain":[1.15,5.2],"nice":false,"zero":false},"axis":{"orient":"top","title":"LNs CD4+ cells"}}}}
],"resolve":{"axis":{"x":"independent"}}},
{"width":117,"height":118,"title":{"text":"M"},"transform":[{"filter":"datum.p=='M'"},{"fold":["a","b","c","d"],"as":["s","y"]}],"encoding":{"x":{"field":"x","type":"quantitative","scale":{"domain":[1.15,5.2],"nice":false,"zero":false},"axis":null},"y":{"field":"y","type":"quantitative","scale":{"domain":[0,105],"nice":false},"axis":{"values":[0,20,40,60,80,100],"title":"% of Max"}}},"layer":[
{"transform":[{"filter":"datum.s=='d'"}],"mark":{"type":"area","fill":"#e8e8e8","stroke":"#9c9c9c","strokeWidth":0.8},"encoding":{"x":{"field":"x","type":"quantitative","scale":{"domain":[1.15,5.2],"nice":false,"zero":false},"axis":{"values":[1.4,1.5,1.63,1.75,1.85,1.92,2,2.301,2.477,2.602,2.699,2.778,2.845,2.903,2.954,3,3.301,3.477,3.602,3.699,3.778,3.845,3.903,3.954,4,4.301,4.477,4.602,4.699,4.778,4.845,4.903,4.954,5,5.18],"labelExpr":"datum.value==1.63?'0':datum.value==2?'10²':datum.value==3?'10³':datum.value==4?'10⁴':datum.value==5?'10⁵':''","tickSize":{"condition":{"test":"datum.value==1.63||datum.value==2||datum.value==3||datum.value==4||datum.value==5","value":4},"value":2},"title":"Alexa Fluor 647"}}}},
{"transform":[{"filter":"datum.s=='c'"}],"mark":{"type":"line","stroke":"#b3b3b3"}},
{"transform":[{"filter":"datum.s=='b'"}],"mark":{"type":"line","stroke":"#4a4a4a"}},
{"transform":[{"filter":"datum.s=='a'"}],"mark":{"type":"line","stroke":"#000"},"encoding":{"x":{"field":"x","type":"quantitative","scale":{"domain":[1.15,5.2],"nice":false,"zero":false},"axis":{"orient":"top","title":"LNs CD8+ cells"}}}}
],"resolve":{"axis":{"x":"independent"}}},
{"width":117,"height":118,"title":{"text":"N"},"transform":[{"filter":"datum.p=='N'"},{"fold":["a","b","c","d"],"as":["s","y"]}],"encoding":{"x":{"field":"x","type":"quantitative","scale":{"domain":[1.15,5.2],"nice":false,"zero":false},"axis":null},"y":{"field":"y","type":"quantitative","scale":{"domain":[0,105],"nice":false},"axis":{"values":[0,20,40,60,80,100],"title":"% of Max"}}},"layer":[
{"transform":[{"filter":"datum.s=='d'"}],"mark":{"type":"area","fill":"#e8e8e8","stroke":"#9c9c9c","strokeWidth":0.8},"encoding":{"x":{"field":"x","type":"quantitative","scale":{"domain":[1.15,5.2],"nice":false,"zero":false},"axis":{"values":[1.4,1.5,1.63,1.75,1.85,1.92,2,2.301,2.477,2.602,2.699,2.778,2.845,2.903,2.954,3,3.301,3.477,3.602,3.699,3.778,3.845,3.903,3.954,4,4.301,4.477,4.602,4.699,4.778,4.845,4.903,4.954,5,5.18],"labelExpr":"datum.value==1.63?'0':datum.value==2?'10²':datum.value==3?'10³':datum.value==4?'10⁴':datum.value==5?'10⁵':''","tickSize":{"condition":{"test":"datum.value==1.63||datum.value==2||datum.value==3||datum.value==4||datum.value==5","value":4},"value":2},"title":"Alexa Fluor 647"}}}},
{"transform":[{"filter":"datum.s=='c'"}],"mark":{"type":"line","stroke":"#b3b3b3"}},
{"transform":[{"filter":"datum.s=='b'"}],"mark":{"type":"line","stroke":"#4a4a4a"}},
{"transform":[{"filter":"datum.s=='a'"}],"mark":{"type":"line","stroke":"#000"},"encoding":{"x":{"field":"x","type":"quantitative","scale":{"domain":[1.15,5.2],"nice":false,"zero":false},"axis":{"orient":"top","title":"LNs CD45R+ MHCII+ cells"}}}},
{"transform":[{"filter":"false"}],"mark":{"type":"square","opacity":1},"encoding":{"fill":{"field":"s","type":"nominal","scale":{"domain":["B27 TG1","B7 TG","Lewis WT","Isotype control"],"range":["#000000","#4d4d4d","#a0a0a0","#c4c4c4"]},"legend":{}}}}
],"resolve":{"axis":{"x":"independent"}}}
]}
]}
]}
]
}
